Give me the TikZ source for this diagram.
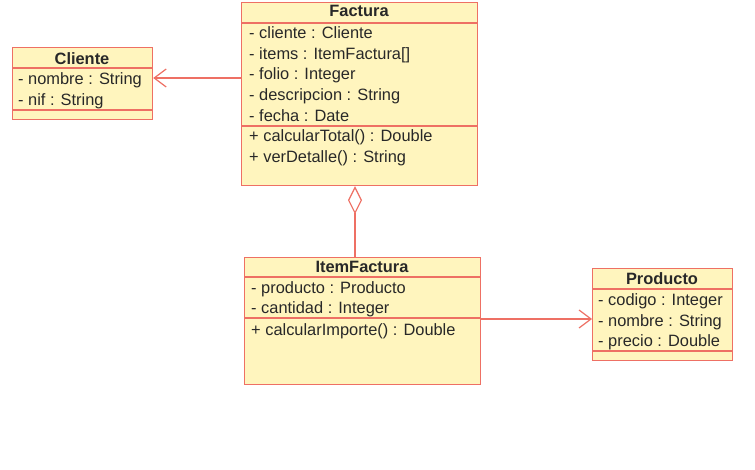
\documentclass[tikz,border=0pt]{standalone}
\usepackage{fontspec}
\setmainfont{Liberation Sans}
\usetikzlibrary{arrows.meta}
\definecolor{boxfill}{RGB}{255,245,190}
\definecolor{boxline}{RGB}{238,112,100}
\definecolor{txt}{RGB}{40,40,40}
\tikzset{
  classbox/.style={draw=boxline, fill=boxfill, line width=1.2pt, rectangle, anchor=north west, inner sep=0pt},
  sepline/.style={draw=boxline, line width=1.2pt},
  attr/.style={anchor=base west, inner sep=0pt, text=txt, font=\fontsize{16.4}{19}\selectfont},
  ctitle/.style={anchor=base, inner sep=0pt, text=txt, font=\fontsize{16.4}{19}\selectfont\bfseries},
  conn/.style={draw=boxline, line width=1.2pt},
}
\begin{document}
\begin{tikzpicture}[x=1pt,y=-1pt]
\useasboundingbox[fill=white] (0,0) rectangle (755,470);
% Factura
\node[classbox, minimum width=236pt, minimum height=183pt] (factura) at (241,2) {};
\draw[sepline] (241,23) -- (477,23);
\draw[sepline] (241,126) -- (477,126);
\node[ctitle] (ftitle) at (359,17) {Factura};
\node[attr] (f1) at (249,38.3) {- cliente : Cliente};
\node[attr] (f2) at (249,59.2) {- items : ItemFactura[]};
\node[attr] (f3) at (249,80) {- folio : Integer};
\node[attr] (f4) at (249,100.8) {- descripcion : String};
\node[attr] (f5) at (249,121.6) {- fecha : Date};
\node[attr] (f6) at (249,141.7) {+ calcularTotal() : Double};
\node[attr] (f7) at (249,162.3) {+ verDetalle() : String};
% Cliente
\node[classbox, minimum width=140pt, minimum height=72pt] (cliente) at (12,47) {};
\draw[sepline] (12,68) -- (152,68);
\draw[sepline] (12,110) -- (152,110);
\node[ctitle] (ctitle) at (82,65) {Cliente};
\node[attr] (c1) at (18,85) {- nombre : String};
\node[attr] (c2) at (18,105.7) {- nif : String};
% ItemFactura
\node[classbox, minimum width=236pt, minimum height=127pt] (item) at (244,257) {};
\draw[sepline] (244,277) -- (480,277);
\draw[sepline] (244,318) -- (480,318);
\node[ctitle] (ititle) at (362,272.3) {ItemFactura};
\node[attr] (i1) at (251,293.3) {- producto : Producto};
\node[attr] (i2) at (251,314) {- cantidad : Integer};
\node[attr] (i3) at (251,335) {+ calcularImporte() : Double};
% Producto
\node[classbox, minimum width=140pt, minimum height=92pt] (producto) at (592,268) {};
\draw[sepline] (592,289) -- (732,289);
\draw[sepline] (592,351) -- (732,351);
\node[ctitle] (ptitle) at (662,285) {Producto};
\node[attr] (p1) at (598,305.7) {- codigo : Integer};
\node[attr] (p2) at (598,326.3) {- nombre : String};
\node[attr] (p3) at (598,346.7) {- precio : Double};
% connectors
\coordinate (cl) at (0,78);
\coordinate (ag) at (355,0);
\coordinate (pr) at (0,319);
\draw[conn, -{Straight Barb[length=12pt,width=18pt]}] (factura.west |- cl) -- (cliente.east |- cl);
\draw[conn, {Diamond[open,length=28pt,width=14pt,fill=white]}-] (factura.south -| ag) -- (item.north -| ag);
\draw[conn, -{Straight Barb[length=12pt,width=18pt]}] (item.east |- pr) -- (producto.west |- pr);
\end{tikzpicture}
\end{document}
